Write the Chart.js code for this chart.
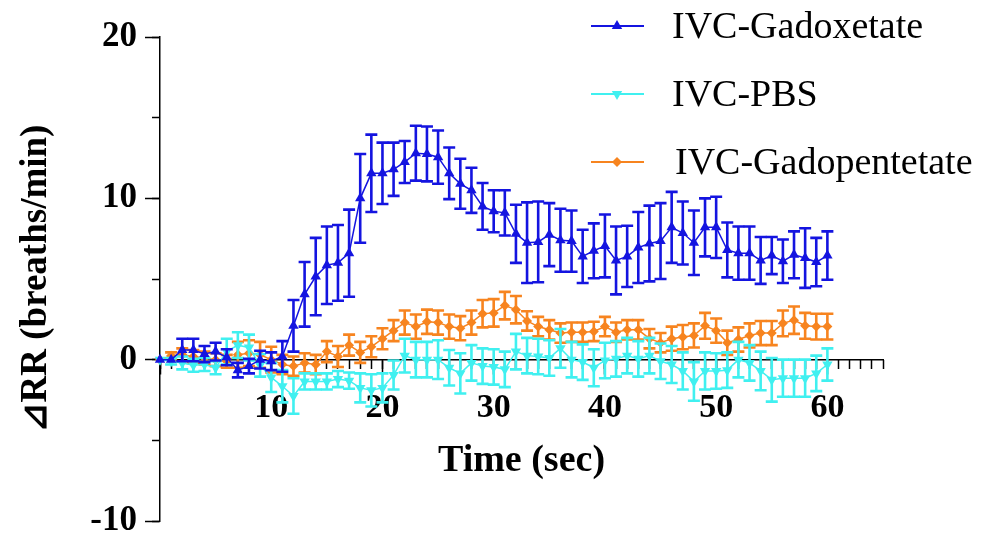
<!DOCTYPE html>
<html>
<head>
<meta charset="utf-8">
<script src="https://cdn.jsdelivr.net/npm/chart.js@4/dist/chart.umd.min.js"></script>
<style>
html, body { margin: 0; padding: 0; background: #fff; }
#wrap { width: 994px; height: 537px; }
</style>
</head>
<body>
<div id="wrap"><canvas id="rrChart"></canvas></div>
<script>
// 時間 (sec)
const times = [0,1,2,3,4,5,6,7,8,9,10,11,12,13,14,15,16,17,18,19,20,21,22,23,24,25,26,27,28,29,30,
	31,32,33,34,35,36,37,38,39,40,41,42,43,44,45,46,47,48,49,50,51,52,53,54,55,56,57,58,59,60];
// IVC-Gadoxetate
const gadoxetate = [0,0,0.6,0.6,0.35,0.5,0.15,-0.65,-0.4,0,-0.1,0.2,
	2.1,4.05,5.15,5.85,6.0,6.6,10.0,11.55,11.55,11.8,12.25,12.8,12.75,12.55,11.55,10.9,10.5,9.5,9.2,
	9.1,7.8,7.25,7.3,7.75,7.4,7.35,6.4,6.75,7.05,6.15,6.4,6.95,7.2,7.35,
	8.2,7.85,7.25,8.2,8.2,6.8,6.6,6.6,6.15,6.45,6.1,6.5,6.3,6.05,6.45];
const gadoxetateErr = [0,0,0.7,0.7,0.5,0.55,0.5,0.45,0.45,0.55,0.55,0.95,
	1.6,2.0,2.4,2.4,2.35,2.7,2.75,2.4,1.9,1.65,1.3,1.7,1.7,1.65,1.6,1.55,1.4,1.45,1.3,
	1.4,1.8,2.5,2.5,1.95,1.95,1.9,1.65,1.7,1.95,2.1,1.9,2.2,2.35,2.35,
	2.2,1.95,2.0,1.8,1.9,1.7,1.65,1.65,1.45,1.15,1.35,1.45,1.85,1.5,1.5];
// IVC-PBS
const pbs = [0,-0.1,-0.2,-0.35,-0.3,-0.5,0.5,0.9,0.75,-0.35,-1.1,-1.65,
	-2.25,-1.35,-1.35,-1.35,-1.2,-1.3,-1.75,-1.9,-1.75,-0.95,0.25,0,0,0,-0.5,-0.85,-0.2,-0.4,-0.45,
	-0.6,0.5,0.25,0.2,0.1,0.7,0,-0.15,-0.5,-0.05,0.05,0.25,0.05,0.25,-0.1,
	-0.3,-0.7,-1.35,-0.7,-0.7,-0.65,0,-0.2,-0.7,-1.25,-1.15,-1.15,-1.15,-0.85,-0.3];
const pbsErr = [0,0.2,0.4,0.4,0.4,0.4,0.8,0.8,0.8,0.7,0.9,1.0,
	1.1,0.5,0.5,0.5,0.5,0.5,0.9,1.0,0.9,0.9,1.05,1.1,1.1,1.2,1.1,1.25,1.1,1.1,1.1,
	1.1,1.1,1.1,1.1,1.1,1.2,1.1,1.1,1.15,1.1,1.1,1.1,1.1,1.1,1.1,
	1.15,1.15,1.2,1.15,1.1,1.1,1.1,1.1,1.2,1.35,1.15,1.15,1.15,1.1,1.0];
// IVC-Gadopentetate
const gadopentetate = [0,0.25,0.3,0.2,0.1,0,-0.1,0.3,0.4,0.3,0,-0.3,
	-0.4,-0.2,-0.3,0.5,0.2,0.9,0.45,0.8,1.3,1.8,2.3,2.05,2.35,2.3,2.05,1.95,2.3,2.85,2.9,
	3.35,3.1,2.4,2.05,1.85,1.65,1.7,1.7,1.75,2.05,1.7,1.85,1.85,1.3,1.05,
	1.3,1.4,1.5,2.1,1.8,1.05,1.25,1.5,1.65,1.65,2.25,2.45,2.1,2.05,2.05];
const gadopentetateErr = [0,0.2,0.4,0.4,0.4,0.4,0.4,0.8,0.8,0.8,0.8,0.6,
	0.6,0.6,0.6,0.65,0.65,0.65,0.65,0.65,0.65,0.65,0.75,0.75,0.75,0.75,0.75,0.75,0.75,0.85,0.85,
	0.85,0.85,0.6,0.6,0.6,0.6,0.6,0.6,0.6,0.6,0.6,0.6,0.6,0.6,0.6,
	0.75,0.75,0.75,0.8,0.75,0.75,0.75,0.75,0.75,0.75,0.8,0.85,0.8,0.8,0.8];

const seriesNames = ['IVC-Gadoxetate', 'IVC-PBS', 'IVC-Gadopentetate'];
const xTickLabels = ['10', '20', '30', '40', '50', '60'];
const yTickLabels = ['-10', '0', '10', '20'];

const BLUE = '#1414e0';
const CYAN = '#40f0f0';
const ORANGE = '#f7841f';
const SERIF = "'Liberation Serif', 'Times New Roman', serif";

Chart.defaults.font.family = SERIF;

const toPoints = (vals) => vals.map((v, i) => ({ x: times[i], y: v }));

// エラーバー（SEM）を各データセットの下に描く
const errorBars = {
	id: 'errorBars',
	beforeDatasetDraw(chart, args) {
		const ds = chart.data.datasets[args.index];
		if (!ds.errors) return;
		const ys = chart.scales.y;
		const ctx = chart.ctx;
		ctx.save();
		ctx.strokeStyle = ds.borderColor;
		ctx.lineWidth = 2.6;
		args.meta.data.forEach((pt, i) => {
			const e = ds.errors[i];
			if (!e) return;
			const v = ds.data[i].y;
			const top = ys.getPixelForValue(v + e);
			const bot = ys.getPixelForValue(v - e);
			ctx.beginPath();
			ctx.moveTo(pt.x, top); ctx.lineTo(pt.x, bot);
			ctx.moveTo(pt.x - 6, top); ctx.lineTo(pt.x + 6, top);
			ctx.moveTo(pt.x - 6, bot); ctx.lineTo(pt.x + 6, bot);
			ctx.stroke();
		});
		ctx.restore();
	}
};

function drawMarker(ctx, style, x, y, r) {
	ctx.beginPath();
	if (style === 'up') {
		ctx.moveTo(x, y - r); ctx.lineTo(x + r * 0.866, y + r / 2); ctx.lineTo(x - r * 0.866, y + r / 2);
	} else if (style === 'down') {
		ctx.moveTo(x, y + r); ctx.lineTo(x + r * 0.866, y - r / 2); ctx.lineTo(x - r * 0.866, y - r / 2);
	} else {
		ctx.moveTo(x, y - r); ctx.lineTo(x + r, y); ctx.lineTo(x, y + r); ctx.lineTo(x - r, y);
	}
	ctx.closePath();
	ctx.fill();
}

// 右上の凡例と X 軸タイトル
const extras = {
	id: 'extras',
	afterDraw(chart) {
		const ctx = chart.ctx;
		const styles = ['up', 'down', 'diamond'];
		const rows = [26, 94, 162];
		ctx.save();
		chart.data.datasets.forEach((ds, i) => {
			const y = rows[i];
			ctx.strokeStyle = ds.borderColor;
			ctx.fillStyle = ds.borderColor;
			ctx.lineWidth = 2;
			ctx.beginPath();
			ctx.moveTo(591, y); ctx.lineTo(644, y);
			ctx.stroke();
			drawMarker(ctx, styles[i], 617, y, i === 2 ? 5 : 6);
			ctx.fillStyle = '#000';
			ctx.font = '38px ' + SERIF;
			ctx.textAlign = 'left';
			ctx.textBaseline = 'middle';
			ctx.fillText(seriesNames[i], i === 2 ? 675 : 672, y + 2);
		});
		const ca = chart.chartArea;
		ctx.font = 'bold 38px ' + SERIF;
		ctx.textAlign = 'center';
		ctx.textBaseline = 'middle';
		ctx.fillText('Time (sec)', (ca.left + ca.right) / 2, chart.scales.y.getPixelForValue(0) + 102);
		ctx.restore();
	}
};

const common = {
	borderWidth: 1.5,
	pointBorderWidth: 0,
	clip: false,
	tension: 0
};

// 軸の余白を詰める（レイアウトは padding だけで決める）
const flatX = (s) => { s.height = 0; s.paddingLeft = 0; s.paddingRight = 0; };

new Chart(document.getElementById('rrChart'), {
	type: 'line',
	data: {
		datasets: [{
			...common,
			label: seriesNames[0],
			data: toPoints(gadoxetate),
			errors: gadoxetateErr,
			borderColor: BLUE,
			backgroundColor: BLUE,
			pointStyle: 'triangle',
			pointRadius: 6
		}, {
			...common,
			label: seriesNames[1],
			data: toPoints(pbs),
			errors: pbsErr,
			borderColor: CYAN,
			backgroundColor: CYAN,
			pointStyle: 'triangle',
			pointRotation: 180,
			pointRadius: 6
		}, {
			...common,
			label: seriesNames[2],
			data: toPoints(gadopentetate),
			errors: gadopentetateErr,
			borderColor: ORANGE,
			backgroundColor: ORANGE,
			pointStyle: 'rectRot',
			pointRadius: 5
		}]
	},
	options: {
		responsive: true,
		maintainAspectRatio: false,
		animation: false,
		layout: { padding: { left: 0, top: 37, right: 111, bottom: 16 } },
		plugins: {
			legend: { display: false },
			tooltip: { enabled: false }
		},
		scales: {
			x: {
				type: 'linear',
				min: 0,
				max: 65,
				position: { y: 0 },
				afterFit: flatX,
				border: { color: '#000', width: 1.5 },
				grid: { drawOnChartArea: false, tickLength: 14, tickWidth: 1.5, tickColor: '#000' },
				ticks: {
					stepSize: 10,
					includeBounds: false,
					autoSkip: false,
					maxRotation: 0,
					padding: 14,
					color: '#000',
					font: { size: 34, weight: 'bold' },
					callback: (v) => xTickLabels.includes(String(v)) ? String(v) : ''
				}
			},
			x2: {
				type: 'linear',
				min: 0,
				max: 65,
				position: { y: 0 },
				afterFit: flatX,
				border: { display: false },
				grid: { drawOnChartArea: false, tickLength: 9, tickWidth: 1.5, tickColor: '#000' },
				ticks: { stepSize: 1, autoSkip: false, maxTicksLimit: 100, maxRotation: 0, callback: () => '' }
			},
			y: {
				min: -10,
				max: 20,
				position: 'left',
				afterFit: (s) => { s.width = 160; s.paddingTop = 0; s.paddingBottom = 0; },
				border: { color: '#000', width: 1.5 },
				grid: { drawOnChartArea: false, tickLength: 15, tickWidth: 1.5, tickColor: '#000' },
				ticks: {
					stepSize: 10,
					padding: 8,
					color: '#000',
					font: { size: 35, weight: 'bold' },
					callback: (v) => yTickLabels.includes(String(v)) ? String(v) : ''
				},
				title: {
					display: true,
					text: '⊿RR (breaths/min)',
					color: '#000',
					font: { size: 37, weight: 'bold' },
					padding: { top: 14, bottom: 0 }
				}
			},
			y2: {
				min: -10,
				max: 20,
				position: { x: 0 },
				afterFit: (s) => { s.width = 0; s.paddingTop = 0; s.paddingBottom = 0; },
				border: { display: false },
				grid: { drawOnChartArea: false, tickLength: 8, tickWidth: 1.5, tickColor: '#000' },
				ticks: { stepSize: 5, autoSkip: false, callback: () => '' }
			}
		}
	},
	plugins: [errorBars, extras]
});
</script>
</body>
</html>
